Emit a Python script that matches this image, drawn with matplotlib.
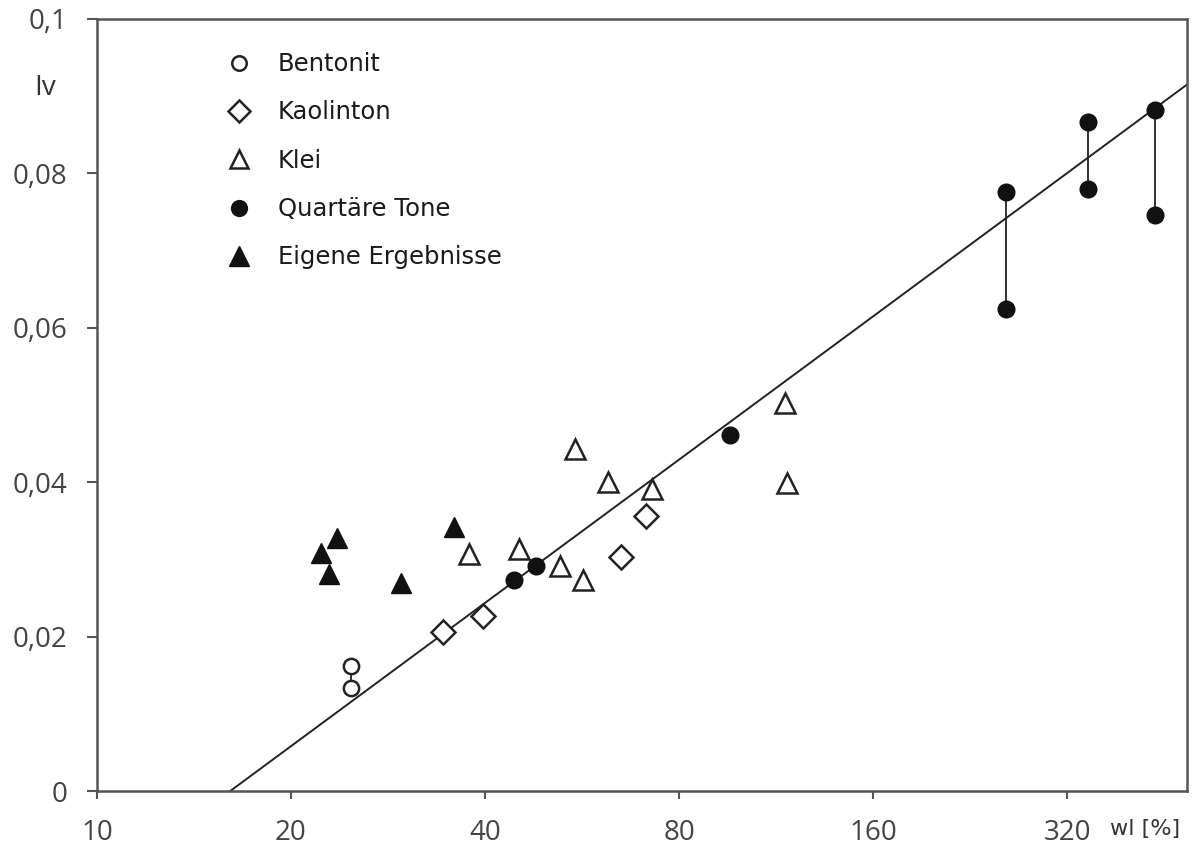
import matplotlib
matplotlib.use('Agg')
import matplotlib.pyplot as plt
import numpy as np

plt.rcParams['font.family'] = ['Open Sans', 'DejaVu Sans']

# data (wl in %, Iv)
bentonit_wl = [24.8, 24.8]
bentonit_iv = [0.0162, 0.0133]

kaolin_wl = [34.4, 39.7, 65.0, 71.1]
kaolin_iv = [0.0206, 0.0227, 0.0303, 0.0356]

klei_wl = [37.8, 45.2, 55.2, 52.3, 56.8, 62.1, 72.6, 116.8, 117.7]
klei_iv = [0.0307, 0.0313, 0.0443, 0.0291, 0.0273, 0.0400, 0.0391, 0.0503, 0.0399]

tone_wl = [44.4, 48.0, 96.0, 257, 257, 345, 345, 438, 438]
tone_iv = [0.0273, 0.0291, 0.0461, 0.0776, 0.0624, 0.0867, 0.0780, 0.0882, 0.0746]

eigene_wl = [22.3, 23.6, 22.9, 29.6, 35.8]
eigene_iv = [0.0308, 0.0328, 0.0281, 0.0269, 0.0342]

# ranges drawn as vertical bars (pairs of points)
range_wl = [24.8, 257, 345, 438]
range_lo = [0.0133, 0.0624, 0.0780, 0.0746]
range_hi = [0.0162, 0.0776, 0.0867, 0.0882]

line_wl = [16.1, 491]
line_iv = [0.0, 0.0915]

xticks = [10, 20, 40, 80, 160, 320]
yticks = [0, 0.02, 0.04, 0.06, 0.08, 0.1]
ylabels = ['0', '0,02', '0,04', '0,06', '0,08', '0,1']

fig = plt.figure(figsize=(11.97, 8.48), dpi=100)
ax = fig.add_axes([0.081, 0.0672, 0.9106, 0.9104])

ax.set_xscale('log', base=2)
ax.set_xlim(10, 491)
ax.set_ylim(0, 0.1)

# regression line
ax.plot(line_wl, line_iv, color='#222222', lw=1.4, zorder=2)

# vertical range bars
for x, lo, hi in zip(range_wl, range_lo, range_hi):
    ax.plot([x, x], [lo, hi], color='#222222', lw=1.3, zorder=2)

ax.plot(bentonit_wl, bentonit_iv, 'o', ls='none', ms=11, mfc='white', mec='#222222', mew=1.8,
        label='Bentonit', zorder=3)
ax.plot(kaolin_wl, kaolin_iv, 'D', ls='none', ms=12, mfc='white', mec='#222222', mew=1.8,
        label='Kaolinton', zorder=3)
ax.plot(klei_wl, klei_iv, '^', ls='none', ms=14, mfc='white', mec='#222222', mew=1.8,
        label='Klei', zorder=3)
ax.plot(tone_wl, tone_iv, 'o', ls='none', ms=12, mfc='#111111', mec='#111111',
        label='Quartäre Tone', zorder=3)
ax.plot(eigene_wl, eigene_iv, '^', ls='none', ms=15, mfc='#111111', mec='#111111',
        label='Eigene Ergebnisse', zorder=3)

leg = ax.legend(loc='upper left', bbox_to_anchor=(0.119, 0.957), frameon=False,
                prop={'family': 'DejaVu Sans', 'size': 17.5}, labelspacing=1.0,
                handletextpad=1.1, markerscale=0.95, handlelength=1.0,
                borderpad=0, borderaxespad=0)
for t in leg.get_texts():
    t.set_color('#1a1a1a')

ax.set_xticks(xticks)
ax.set_xticklabels([str(v) for v in xticks])
ax.minorticks_off()
ax.set_yticks(yticks)
ax.set_yticklabels(ylabels)

ax.tick_params(direction='out', length=7, width=1.5, color='#555555',
               labelsize=20, labelcolor='#444444')
ax.tick_params(axis='x', length=6, pad=14)
ax.tick_params(axis='y', pad=14)
for s in ax.spines.values():
    s.set_color('#555555')
    s.set_linewidth(1.8)

fig.text(0.029, 0.896, 'Iv', fontsize=20, color='#333333', ha='left', va='center')
fig.text(0.957, 0.022, 'wl [%]', fontsize=16, family='DejaVu Sans', color='#333333',
         ha='center', va='center')

fig.savefig('out.png', dpi=100)
